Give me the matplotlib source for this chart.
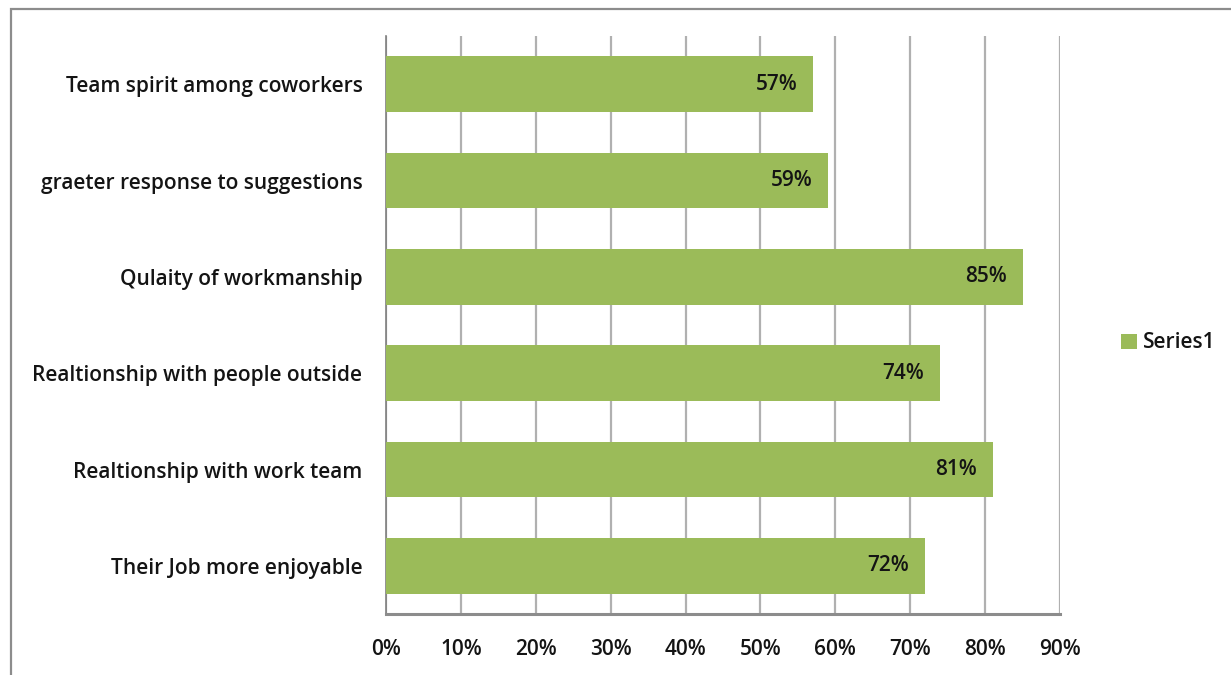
import matplotlib
matplotlib.use("Agg")
import matplotlib.pyplot as plt
from matplotlib.patches import Rectangle
from matplotlib.ticker import FuncFormatter, MultipleLocator

categories = [
    "Their Job more enjoyable",
    "Realtionship with work team",
    "Realtionship with people outside",
    "Qulaity of workmanship",
    "graeter response to suggestions",
    "Team spirit among coworkers",
]
values = [72, 81, 74, 85, 59, 57]
series_name = "Series1"

bar_color = "#9BBB59"
text_color = "#141414"
font = ["Open Sans", "DejaVu Sans"]
fsize = 15

fig = plt.figure(figsize=(12.31, 6.75), dpi=100)
fig.patch.set_facecolor("white")

# outer chart frame
fig.add_artist(Rectangle((11 / 1231, -0.01), 1.2, 1 - 9 / 675 + 0.01,
                         transform=fig.transFigure, fill=False,
                         edgecolor="#8c8c8c", linewidth=1.6))

ax = fig.add_axes([386 / 1231, 1 - 614 / 675, (1060 - 386) / 1231, (614 - 36) / 675])
y = range(len(categories))
bars = ax.barh(y, values, height=0.58, color=bar_color, zorder=3, label=series_name)

ax.set_xlim(0, 90)
ax.set_ylim(-0.5, len(categories) - 0.5)
ax.xaxis.set_major_locator(MultipleLocator(10))
ax.xaxis.set_major_formatter(FuncFormatter(lambda v, p: f"{int(round(v))}%"))
ax.set_yticks(list(y))
ax.set_yticklabels(categories)

ax.grid(axis="x", color="#b0b0b0", linewidth=1.6, zorder=0)
ax.grid(axis="y", visible=False)
for side in ("top", "right"):
    ax.spines[side].set_visible(False)
ax.spines["left"].set_color("#7f7f7f")
ax.spines["left"].set_linewidth(1.2)
ax.spines["bottom"].set_color("#8c8c8c")
ax.spines["bottom"].set_linewidth(2.2)
ax.tick_params(axis="y", length=0, pad=17)
ax.tick_params(axis="x", length=0, pad=18)

for lbl in ax.get_yticklabels() + ax.get_xticklabels():
    lbl.set_fontfamily(font)
    lbl.set_fontweight("semibold")
    lbl.set_fontsize(fsize)
    lbl.set_color(text_color)

for yi, v in zip(y, values):
    ax.text(v - 2.1, yi, f"{v}%", ha="right", va="center",
            fontsize=fsize, fontweight="semibold", family=font,
            color=text_color, zorder=4)

leg = fig.legend(handles=[bars], labels=[series_name], loc="center left",
                 bbox_to_anchor=(1102 / 1231, 1 - 343 / 675), frameon=False,
                 handlelength=0.8, handleheight=0.7, handletextpad=0.25,
                 prop={"family": font, "weight": "semibold", "size": fsize})
for t in leg.get_texts():
    t.set_color(text_color)

fig.savefig("out.png", dpi=100)
